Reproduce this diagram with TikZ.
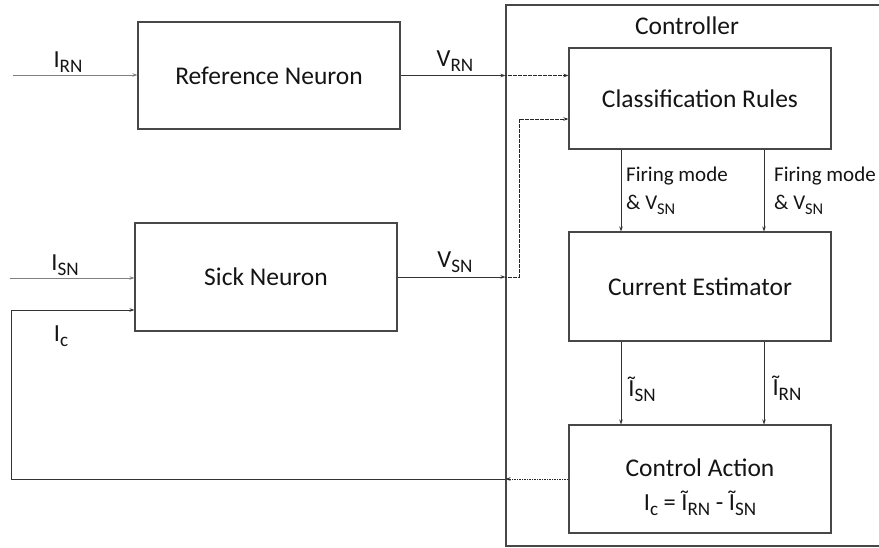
\documentclass[tikz,border=0pt]{standalone}
\usepackage{fontspec}
\setmainfont{Carlito}
\usetikzlibrary{arrows.meta}
\newcommand\lsub[1]{\raisebox{-0.45ex}{\scalebox{0.78}{#1}}}
\begin{document}
\begin{tikzpicture}[x=1pt,y=-1pt,
  box/.style={draw=black!72,line width=1.1pt,minimum width=262pt,inner sep=0pt},
  big/.style={font=\fontsize{25.5}{29}\selectfont,text=black!92},
  lbl/.style={font=\fontsize{24.5}{27}\selectfont,text=black!92,inner sep=0pt},
  small/.style={font=\fontsize{21}{28}\selectfont,text=black!92,inner sep=0pt,align=left},
  arr/.style={draw=black!80,line width=0.9pt,-{Stealth[length=5pt,width=3.5pt]}},
  inarr/.style={draw=black!50,line width=0.9pt,-{Stealth[length=5pt,width=3.5pt]}},
  darr/.style={draw=black!85,line width=1pt,dash pattern=on 1.6pt off 0.9pt,-{Stealth[length=5pt,width=3.5pt]}},
  sline/.style={draw=black!80,line width=0.9pt}]
\useasboundingbox (0,0) rectangle (879,547);
% controller frame (right edge beyond page)
\node[draw=black!72,line width=1.1pt,minimum width=384pt,minimum height=541pt,inner sep=0pt] (ctrl) at (698,275.5) {};
\node[big] (ctrllbl) at (687,26) {Controller};
% boxes
\node[box,big,minimum height=107pt] (ref) at (269,75.5) {Reference Neuron};
\node[box,big,minimum height=108pt] (sick) at (266,277) {Sick Neuron};
\node[box,big,minimum height=101pt] (class) at (700,98.5) {Classification Rules};
\node[box,big,minimum height=109pt] (est) at (700,286.5) {Current Estimator};
\node[box,minimum height=108pt] (act) at (700,479) {};
\node[big] (acttxt) at (700,468) {Control Action};
\node[lbl] (acteq) at (700,503) {I\lsub{c} = Ĩ\lsub{RN} - Ĩ\lsub{SN}};
% inputs
\coordinate (irn0) at (13,75);
\coordinate (isn0) at (10,278);
\draw[inarr] (irn0) -- (irn0 -| ref.west);
\draw[inarr] (isn0) -- (isn0 -| sick.west);
\node[lbl] (irnl) at (68,62) {I\lsub{RN}};
\node[lbl] (isnl) at (65,265) {I\lsub{SN}};
\node[lbl] (icl) at (61,336) {I\lsub{c}};
% V_RN
\coordinate (c1) at (ctrl.west |- ref.east);
\draw[arr] (ref.east) -- (c1);
\draw[darr] (c1) -- (c1 -| class.west);
\node[lbl] (vrnl) at (455,61) {V\lsub{RN}};
% V_SN
\coordinate (c2) at (ctrl.west |- sick.east);
\coordinate (c2b) at (519,277);
\coordinate (c2t) at (519,119);
\draw[arr] (sick.east) -- (c2);
\draw[darr] (c2) -- (c2b) -- (c2t) -- (c2t -| class.west);
\node[lbl] (vsnl) at (455,262) {V\lsub{SN}};
% classification -> estimator
\draw[arr] ([xshift=-79pt]class.south) -- ([xshift=-79pt]est.north);
\draw[arr] ([xshift=64pt]class.south) -- ([xshift=64pt]est.north);
\node[small,anchor=north west] (f1) at (626,167) {Firing mode\\\& V\lsub{SN}};
\node[small,anchor=north west] (f2) at (774,167) {Firing mode\\\& V\lsub{SN}};
% estimator -> action
\draw[arr] ([xshift=-79pt]est.south) -- ([xshift=-79pt]act.north);
\draw[arr] ([xshift=64pt]est.south) -- ([xshift=64pt]act.north);
\node[lbl] (tsn) at (642,389) {Ĩ\lsub{SN}};
\node[lbl] (trn) at (787,388) {Ĩ\lsub{RN}};
% feedback
\coordinate (c3) at (ctrl.west |- act.west);
\coordinate (fb1) at (11,479);
\coordinate (fb2) at (11,310);
\draw[darr] (act.west) -- (c3);
\draw[sline,-{Stealth[length=5pt,width=3.5pt]}] (c3) -- (fb1) -- (fb2) -- (fb2 -| sick.west);
\end{tikzpicture}
\end{document}
